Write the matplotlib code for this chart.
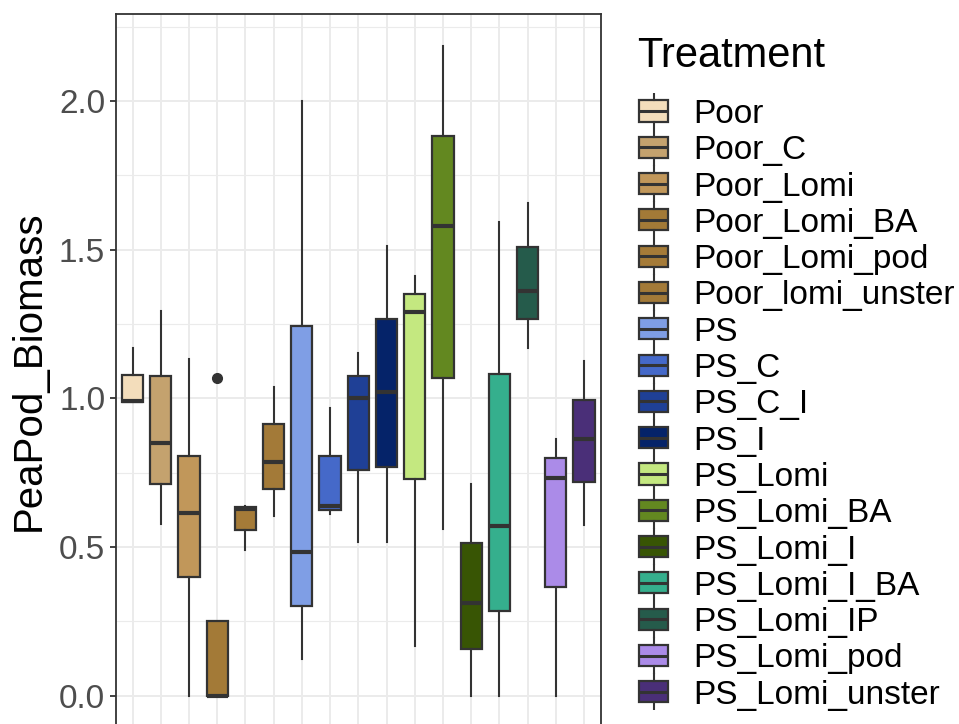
import numpy as np
import matplotlib
matplotlib.use("Agg")
import matplotlib.pyplot as plt
from matplotlib.patches import Rectangle

plt.rcParams['font.family'] = ['Liberation Sans', 'DejaVu Sans']

treatments = ["Poor", "Poor_C", "Poor_Lomi", "Poor_Lomi_BA", "Poor_Lomi_pod",
              "Poor_lomi_unster", "PS", "PS_C", "PS_C_I", "PS_I", "PS_Lomi",
              "PS_Lomi_BA", "PS_Lomi_I", "PS_Lomi_I_BA", "PS_Lomi_IP",
              "PS_Lomi_pod", "PS_Lomi_unster"]
colors = ["#F3DDBB", "#C4A26E", "#C1975A", "#A37A37", "#A57B38", "#A37A38",
          "#7F9EE5", "#4569C9", "#1F4096", "#052369", "#C4E880", "#638820",
          "#385504", "#35AF8D", "#255B4B", "#AB8BE8", "#4A2F78"]

# box stats
q1 = [0.987, 0.713, 0.399, 0.000, 0.556, 0.696, 0.303, 0.623, 0.760, 0.769,
      0.729, 1.070, 0.156, 0.285, 1.266, 0.366, 0.718]
med = [0.990, 0.851, 0.614, 0.000, 0.628, 0.787, 0.484, 0.639, 1.002, 1.023,
       1.290, 1.581, 0.313, 0.569, 1.361, 0.733, 0.863]
q3 = [1.078, 1.074, 0.805, 0.251, 0.635, 0.914, 1.245, 0.805, 1.076, 1.267,
      1.350, 1.883, 0.514, 1.081, 1.509, 0.800, 0.995]
whislo = [0.987, 0.578, 0.000, 0.000, 0.491, 0.605, 0.124, 0.611, 0.518, 0.518,
          0.168, 0.560, 0.000, 0.000, 1.171, 0.000, 0.575]
whishi = [1.171, 1.295, 1.133, 0.251, 0.639, 1.037, 2.000, 0.968, 1.152, 1.512,
          1.411, 2.184, 0.713, 1.594, 1.656, 0.863, 1.124]
outliers = {"Poor_Lomi_BA": [1.070]}

LINE = "#333333"
W, H = 959, 724

fig = plt.figure(figsize=(W / 100, H / 100), dpi=100)
ax = fig.add_axes([115.6 / W, 1 - 728 / H, (601 - 115.6) / W, (728 - 14) / H])

stats = []
for i, name in enumerate(treatments):
    stats.append(dict(label=name, q1=q1[i], med=med[i], q3=q3[i],
                      whislo=whislo[i], whishi=whishi[i],
                      fliers=outliers.get(name, [])))

pos = np.arange(1, len(treatments) + 1)
bp = ax.bxp(stats, positions=pos, widths=0.75, patch_artist=True, showcaps=False,
            boxprops=dict(edgecolor=LINE, linewidth=1.6),
            whiskerprops=dict(color=LINE, linewidth=1.5),
            medianprops=dict(color=LINE, linewidth=3.0, solid_capstyle='butt'),
            flierprops=dict(marker='o', markerfacecolor=LINE, markeredgecolor=LINE,
                            markersize=7))
for patch, c in zip(bp['boxes'], colors):
    patch.set_facecolor(c)
for b in bp['boxes'] + bp['whiskers'] + bp['medians'] + bp['fliers']:
    b.set_zorder(3)

ax.set_xlim(0.4, 17.6)
ax.set_ylim(-0.109, 2.293)
ax.set_yticks([0, 0.5, 1.0, 1.5, 2.0])
ax.set_yticklabels(["0.0", "0.5", "1.0", "1.5", "2.0"])
ax.set_yticks([0.25, 0.75, 1.25, 1.75, 2.25], minor=True)
ax.set_xticks(pos)
ax.set_xticklabels([])
ax.grid(which='major', color='#EBEBEB', linewidth=1.4, zorder=0)
ax.grid(which='minor', axis='y', color='#EBEBEB', linewidth=0.8, zorder=0)
ax.set_axisbelow(True)
ax.tick_params(axis='y', which='major', labelsize=24, labelcolor='#4D4D4D',
               color=LINE, length=4.5, width=1.3, pad=3)
ax.tick_params(which='minor', length=0)
ax.tick_params(axis='x', color=LINE, length=4.5, width=1.3)
for s in ax.spines.values():
    s.set_color(LINE)
    s.set_linewidth(1.3)

fig.text(29 / W, 1 - 371 / H, "PeaPod_Biomass", rotation=90, fontsize=29,
         ha='center', va='center', color='black')

# legend, drawn by hand to mimic the ggplot boxplot keys
n = len(treatments)
row = 36.3
top = 111 - row / 2
lax = fig.add_axes([630 / W, 1 - (top + n * row) / H, (W - 630) / W, n * row / H])
lax.set_xlim(0, W - 630)
lax.set_ylim(n - 0.5, -0.5)
lax.axis('off')
fs = 24
cap = 0.716 * fs * 100 / 72 / 2 / row
for i, (name, c) in enumerate(zip(treatments, colors)):
    lax.plot([23.5, 23.5], [i - 0.48, i - 0.29], color=LINE, lw=1.5)
    lax.plot([23.5, 23.5], [i + 0.29, i + 0.48], color=LINE, lw=1.5)
    lax.add_patch(Rectangle((9, i - 0.29), 29, 0.58, facecolor=c,
                            edgecolor=LINE, linewidth=1.6))
    lax.plot([9, 38], [i, i], color=LINE, lw=2.2, solid_capstyle='butt')
    lax.text(63, i + cap, name, fontsize=fs, va='baseline', ha='left')

fig.text(637 / W, 1 - 66.7 / H, "Treatment", fontsize=30, va='baseline', ha='left')

fig.savefig("out.png", dpi=100)
